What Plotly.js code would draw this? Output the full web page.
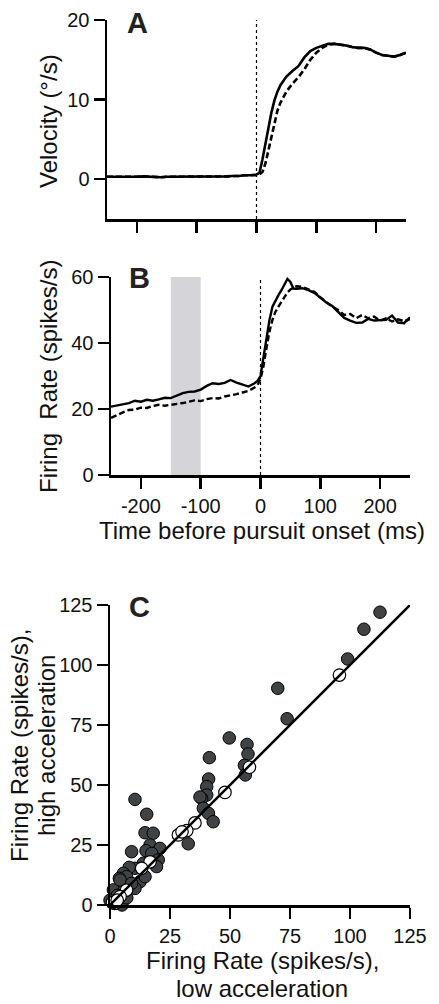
<!DOCTYPE html>
<html>
<head>
<meta charset="utf-8">
<script src="https://cdn.plot.ly/plotly-3.0.1.min.js"></script>
<style>html,body{margin:0;padding:0;background:#fff;}#chart{width:439px;height:1004px;}</style>
</head>
<body>
<div id="chart"></div>
<script>
// ---------- Panel A: eye velocity ----------
const timeA = [-250,-240,-230,-220,-210,-200,-190,-180,-170,-160,-150,-140,-130,-120,-110,-100,-90,-80,-70,-60,-50,-40,-30,-20,-10,0,5,10,15,20,25,30,35,40,50,60,70,80,90,100,110,120,130,140,150,160,170,180,190,200,210,220,230,240,250];
const velHigh = [0.3,0.3,0.25,0.3,0.3,0.3,0.35,0.3,0.3,0.25,0.3,0.3,0.3,0.35,0.3,0.3,0.3,0.3,0.35,0.3,0.35,0.4,0.4,0.5,0.5,0.6,0.8,2.5,4.6,6.6,8.4,9.9,11.0,11.8,12.9,13.6,14.2,15.3,16.1,16.5,16.8,17.0,17.0,16.9,16.8,16.6,16.5,16.5,16.3,15.9,15.6,15.5,15.4,15.6,15.9];
const velLow  = [0.3,0.3,0.25,0.3,0.3,0.3,0.35,0.3,0.3,0.25,0.3,0.3,0.3,0.35,0.3,0.3,0.3,0.3,0.35,0.3,0.35,0.4,0.4,0.5,0.5,0.5,0.6,0.9,2.0,3.6,5.5,7.2,8.6,9.6,11.0,12.0,12.8,13.8,15.0,15.9,16.5,16.9,17.0,16.9,16.8,16.6,16.5,16.5,16.3,15.9,15.6,15.5,15.4,15.6,15.9];

// ---------- Panel B: firing rate ----------
const timeB = [-250,-240,-230,-220,-210,-200,-190,-180,-170,-160,-150,-140,-130,-120,-110,-100,-90,-80,-70,-60,-50,-40,-30,-20,-10,-5,0,5,10,15,20,25,30,35,40,45,50,55,60,70,80,90,100,110,120,130,140,150,160,170,180,190,200,210,220,230,240,250];
const rateHigh = [20.7,21.0,21.3,21.8,22.5,22.2,22.8,22.5,22.9,23.4,23.3,24.0,24.8,25.2,25.3,25.9,27.0,27.8,27.6,27.9,28.8,28.0,27.4,26.8,27.8,28.5,30.0,36,42,47,51,53,54.5,56,57.5,59.4,58.5,56.5,56.4,56.6,56.0,55.2,53.8,52.3,51.2,49.5,47.6,46.8,46.1,46.2,47.3,46.8,46.9,47.0,48.3,46.2,46.0,47.8];
const rateLow  = [17.3,18.2,19.0,19.7,19.8,20.4,20.3,20.9,21.3,21.0,21.2,21.6,21.8,22.2,22.6,22.4,23.0,23.3,23.2,23.8,24.1,24.5,25.0,25.5,26.5,27.3,29.0,33,38.5,43.5,47,49.5,51,52.5,54,55.3,56.2,56.8,57.2,57.0,56.3,55.5,53.8,52.5,51.0,50.0,48.5,48.8,47.5,48.5,47.5,48.0,46.8,47.5,46.5,47.2,46.6,47.2];
const windowB = [-150, -100];   // shaded analysis window (ms)

// ---------- Panel C: per-neuron firing rates ----------
const filledLow  = [112.5,105.8,99,69.9,73.8,49.7,57.1,57.5,56,56.4,41.4,41.1,40.3,40.3,38.2,37.5,10.4,15.3,38.9,41,43,14.6,18,16.7,20.8,15,17.4,20.1,19.4,9,32.6,13.9,10.4,8,5.6,6.9,3.9,12.5,14.6,10.4,1.4,4.2,9,5.6,0,5,3,7,2];
const filledHigh = [122,114.9,102.5,90.3,77.6,69.6,66.9,62.9,58.2,54.2,61.4,52.5,49.3,45.8,44.4,45,44,37.8,40.3,38.2,34.7,30.1,29.9,25,23.6,22.6,21.5,18.8,16,22.2,25.5,17.4,15.3,15.7,13.2,11.8,11.1,9.7,11.8,6.9,6.3,10.4,9,5.6,2,0,4,3,-1];
const openLow  = [95.6,58.1,47.9,35.4,32,28.5,30,16.7,13.2,6.9,4.2,2,1,3];
const openHigh = [95.8,57.4,46.9,34.2,31,29.2,30.5,18,15.3,6.2,3.5,0.7,1,2];
const unityLine = [0, 125];

const tickTimeVals = [-200,-100,0,100,200];
const tickTimeText = ['-200','-100','0','100','200'];
const tickVelVals = [0,10,20];
const tickRateVals = [0,20,40,60];
const tickScatterVals = [0,25,50,75,100,125];

// ---------- layout helpers ----------
const W = 439, H = 1004;
const px = v => v / W;
const py = v => 1 - v / H;
const FONT = 'Liberation Sans, Arial, Helvetica, sans-serif';
const axisBase = {
  showline: true, linecolor: '#000', linewidth: 2.5, mirror: false,
  ticks: 'outside', ticklen: 11, tickwidth: 2.5, tickcolor: '#000',
  showgrid: false, zeroline: false, fixedrange: true,
  tickfont: {family: FONT, size: 20, color: '#111'}
};

const traces = [
  {x: timeA, y: velLow, xaxis: 'x', yaxis: 'y', mode: 'lines', name: 'low acceleration',
   line: {color: '#000', width: 2.6, dash: '6px,3px'}, showlegend: false},
  {x: timeA, y: velHigh, xaxis: 'x', yaxis: 'y', mode: 'lines', name: 'high acceleration',
   line: {color: '#000', width: 2.6}, showlegend: false},
  {x: timeB, y: rateLow, xaxis: 'x2', yaxis: 'y2', mode: 'lines', name: 'low acceleration',
   line: {color: '#000', width: 2.4, dash: '6px,3px'}, showlegend: false},
  {x: timeB, y: rateHigh, xaxis: 'x2', yaxis: 'y2', mode: 'lines', name: 'high acceleration',
   line: {color: '#000', width: 2.4}, showlegend: false},
  {x: filledLow, y: filledHigh, xaxis: 'x3', yaxis: 'y3', mode: 'markers', cliponaxis: false,
   marker: {size: 12.5, color: '#404346', line: {color: '#000', width: 1}}, showlegend: false},
  {x: openLow, y: openHigh, xaxis: 'x3', yaxis: 'y3', mode: 'markers', cliponaxis: false,
   marker: {size: 12.5, color: '#fff', line: {color: '#000', width: 1.2}}, showlegend: false},
  {x: unityLine, y: unityLine, xaxis: 'x3', yaxis: 'y3', mode: 'lines', cliponaxis: false,
   line: {color: '#000', width: 2.5}, showlegend: false}
];

const ann = (text, x, y, opts) => Object.assign({
  text: text, xref: 'paper', yref: 'paper', x: px(x), y: py(y),
  xanchor: 'center', yanchor: 'middle', showarrow: false,
  font: {family: FONT, size: 24, color: '#111'}
}, opts || {});

const layout = {
  width: W, height: H,
  margin: {l: 0, r: 0, t: 0, b: 0},
  paper_bgcolor: '#fff', plot_bgcolor: 'rgba(0,0,0,0)',
  showlegend: false,
  xaxis: Object.assign({}, axisBase, {domain: [px(107), px(406)], range: [-250, 250], anchor: 'y',
    tickvals: tickTimeVals, showticklabels: false}),
  yaxis: Object.assign({}, axisBase, {domain: [py(219), py(20)], range: [-5, 20], anchor: 'x',
    tickvals: tickVelVals}),
  xaxis2: Object.assign({}, axisBase, {domain: [px(111), px(410)], range: [-250, 250], anchor: 'y2',
    tickvals: tickTimeVals, ticktext: tickTimeText}),
  yaxis2: Object.assign({}, axisBase, {domain: [py(475), py(277)], range: [0, 60], anchor: 'x2',
    tickvals: tickRateVals}),
  xaxis3: Object.assign({}, axisBase, {domain: [px(110), px(410)], range: [0, 125], anchor: 'y3',
    tickvals: tickScatterVals}),
  yaxis3: Object.assign({}, axisBase, {domain: [py(905), py(605)], range: [0, 125], anchor: 'x3',
    tickvals: tickScatterVals}),
  shapes: [
    {type: 'rect', xref: 'x2', yref: 'y2', x0: windowB[0], x1: windowB[1], y0: 0, y1: 60,
     fillcolor: '#d4d4d9', line: {width: 0}, layer: 'below'},
    {type: 'line', xref: 'x', yref: 'y', x0: 0, x1: 0, y0: -5, y1: 20,
     line: {color: '#000', width: 1.2, dash: 'dot'}, layer: 'below'},
    {type: 'line', xref: 'x2', yref: 'y2', x0: 0, x1: 0, y0: 0, y1: 60,
     line: {color: '#000', width: 1.2, dash: 'dot'}, layer: 'below'}
  ],
  annotations: [
    ann('<b>A</b>', 137, 23, {font: {family: FONT, size: 29, color: '#222'}}),
    ann('<b>B</b>', 139, 278, {font: {family: FONT, size: 29, color: '#222'}}),
    ann('<b>C</b>', 139, 607, {font: {family: FONT, size: 29, color: '#222'}}),
    ann('Velocity (°/s)', 48, 121, {textangle: -90}),
    ann('Firing\u00a0 Rate (spikes/s)', 48, 377, {textangle: -90}),
    ann('Time before pursuit onset (ms)', 262, 530),
    ann('Firing Rate (spikes/s),', 19, 746, {textangle: -90}),
    ann('high acceleration', 46, 746, {textangle: -90}),
    ann('Firing Rate (spikes/s),', 262, 960),
    ann('low acceleration', 262, 988)
  ]
};

Plotly.newPlot('chart', traces, layout, {staticPlot: true, displayModeBar: false});
</script>
</body>
</html>
